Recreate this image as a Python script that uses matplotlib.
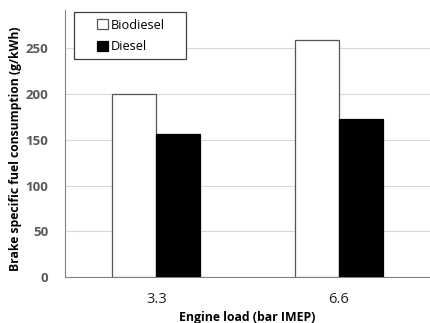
import numpy as np
import matplotlib
matplotlib.use("Agg")
import matplotlib.pyplot as plt
from matplotlib.patches import Rectangle

plt.rcParams['font.family'] = ['Open Sans', 'DejaVu Sans']

loads = ["3.3", "6.6"]
biodiesel = [200, 259]
diesel = [156, 173]

fig = plt.figure(figsize=(4.3, 3.23), dpi=100)
ax = fig.add_axes([0.151, 0.1424, 0.849, 0.8266])

x = np.arange(len(loads))
w = 0.24
ax.bar(x - w / 2, biodiesel, w, color="white", edgecolor="#555555", linewidth=0.9,
       label="Biodiesel", zorder=3)
ax.bar(x + w / 2, diesel, w, color="black", edgecolor="black", linewidth=0.9,
       label="Diesel", zorder=3)

ax.set_xlim(-0.5, 1.5)
ax.set_ylim(0, 292)
ax.set_yticks([0, 50, 100, 150, 200, 250])
ax.set_xticks(x)
ax.set_xticklabels(loads, fontsize=10.5, color="#222222")
for t in ax.get_yticklabels():
    t.set_fontsize(9.5)
    t.set_fontweight("bold")
    t.set_color("#595959")

ax.grid(axis="y", color="#d9d9d9", linewidth=0.8, zorder=0)
ax.tick_params(axis="both", length=0)
ax.tick_params(axis="y", pad=12)
ax.tick_params(axis="x", pad=11)
for s in ["top", "right"]:
    ax.spines[s].set_visible(False)
ax.spines["left"].set_color("#808080")
ax.spines["bottom"].set_color("#808080")

ax.set_ylabel("Brake specific fuel consumption (g/kWh)", fontsize=8.7, fontweight="bold",
              labelpad=1)
ax.yaxis.set_label_coords(-0.118, 0.481)
ax.set_xlabel("Engine load (bar IMEP)", fontsize=8.8, fontweight="bold", labelpad=3)

# legend box
ax.add_patch(Rectangle((0.0247, 0.8165), 0.3068, 0.176, transform=ax.transAxes,
                       facecolor="white", edgecolor="#404040", linewidth=0.9, zorder=5))
leg = ax.legend(loc="center left", bbox_to_anchor=(0.0877, 0.9026), fontsize=9.2,
                frameon=False, handlelength=0.86, handleheight=0.86, handletextpad=0.2,
                borderpad=0, borderaxespad=0, labelspacing=0.7)
leg.set_zorder(6)

fig.savefig("out.png", dpi=100)
